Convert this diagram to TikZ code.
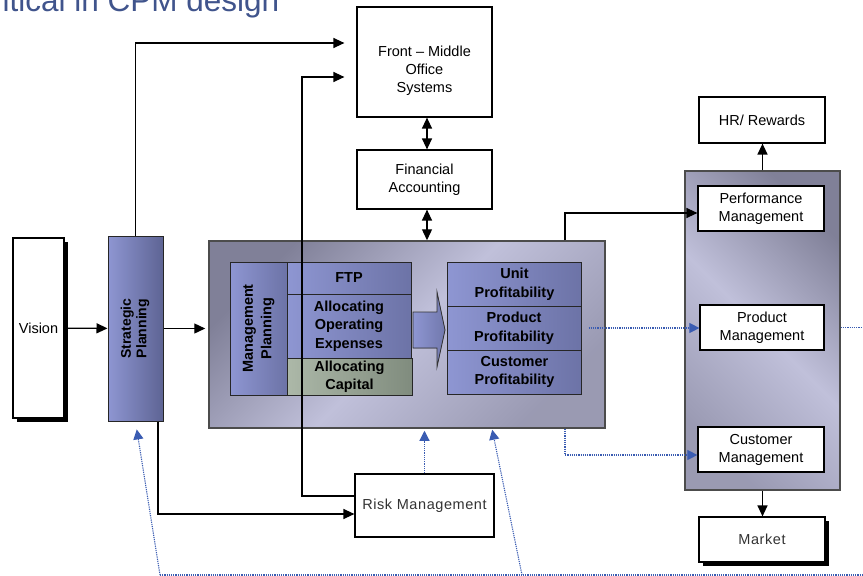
\documentclass[tikz,border=0pt]{standalone}
\usepackage{fontspec}
\setmainfont{Liberation Sans}
\newfontfamily\spacedfont[LetterSpace=4]{Liberation Sans}
\usepackage{xcolor}
\definecolor{titleblue}{RGB}{64,84,140}
\definecolor{flowblue}{RGB}{58,92,178}
\definecolor{panellight}{RGB}{192,192,218}
\definecolor{paneldark}{RGB}{128,128,152}
\definecolor{tilelight}{RGB}{142,150,210}
\definecolor{tiledark}{RGB}{94,100,148}
\definecolor{greenlight}{RGB}{172,184,168}
\definecolor{greendark}{RGB}{128,140,126}
\usepackage{tikz}
\usetikzlibrary{arrows.meta}
\usetikzlibrary{calc}
\usetikzlibrary{shadows}
\newcommand{\plainfont}{\fontsize{14.5}{18}\selectfont}
\newcommand{\tilefont}{\fontsize{14.5}{18.5}\selectfont\bfseries}
\newcommand{\sideways}[1]{\rotatebox{90}{\begin{tabular}{@{}c@{}}#1\end{tabular}}}
\newcommand{\lowered}[2]{\raisebox{#1}[0pt][0pt]{\begin{tabular}{@{}c@{}}#2\end{tabular}}}
\tikzset{
    >={Triangle[length=11pt,width=10pt]},
    common/.style={draw, rectangle, inner sep=0pt, align=center},
    whitebox/.style={common, fill=white, line width=1.2pt, font=\plainfont},
    shadowbox/.style={whitebox, drop shadow={shadow xshift=4pt, shadow yshift=-4pt, fill=black, opacity=1}},
    panel/.style={common, draw=black!70, line width=1.5pt, top color=paneldark, bottom color=paneldark!60!panellight, middle color=panellight, shading angle=#1},
    tile/.style={common, draw=black!85, line width=1pt, left color=tilelight, right color=tiledark!70!tilelight, font=\tilefont},
    greentile/.style={tile, left color=greenlight, right color=greendark},
    link/.style={line width=1.3pt},
    feedback/.style={-{Triangle[length=10pt,width=10pt]}, flowblue, dash pattern=on 1.2pt off 1pt, line width=1.1pt},
    feedbackline/.style={flowblue, dash pattern=on 1.2pt off 1pt, line width=1.1pt}
}

\begin{document}
\begin{tikzpicture}[x=1pt, y=-1pt]
    \useasboundingbox (0,0) rectangle (863,576);

    \node[anchor=base west, text=titleblue, font=\fontsize{31.5}{32}\selectfont] (title) at (-1,11) {itical in CPM design};

    % left column
    \node[shadowbox, minimum width=51, minimum height=180] (vision) at (38.5,328) {Vision};
    \node[tile, left color=tilelight, right color=tiledark, minimum width=55, minimum height=185, font=\fontsize{14}{15.5}\selectfont\bfseries] (strat) at (135.5,328.5) {\sideways{Strategic\\Planning}};

    % centre panel
    \node[panel=45, minimum width=396, minimum height=187] (core) at (407,334.5) {};
    \node[tile, minimum width=57, minimum height=133] (mgmt) at (258.5,328.5) {\sideways{Management\\Planning}};
    \node[tile, minimum width=124, minimum height=32] (ftp) at (349,278) {FTP};
    \node[tile, minimum width=124, minimum height=64] (opex) at (349,326) {Allocating\\Operating\\Expenses};
    \node[greentile, minimum width=125, minimum height=37] (capital) at (349.5,376.5) {Allocating\\Capital};
    \node[tile, minimum width=134, minimum height=44] (unitprof) at (514.5,284) {Unit\\Profitability};
    \node[tile, minimum width=134, minimum height=44] (prodprof) at (514,328) {Product\\Profitability};
    \node[tile, minimum width=134, minimum height=44] (custprof) at (514.5,372) {Customer\\Profitability};
    \filldraw[left color=tilelight, right color=tiledark!60!tilelight, draw=black!80, line width=0.8pt]
        (413,312) -- (437,312) -- (437,292) -- (445,330) -- (437,367) -- (437,348) -- (413,348) -- cycle;

    % top and bottom boxes
    \node[whitebox, minimum width=135, minimum height=110] (fmos) at (424.5,62) {\lowered{-12pt}{Front -- Middle\\Office\\Systems}};
    \node[whitebox, minimum width=135, minimum height=59] (finacc) at (424.5,179.5) {Financial\\Accounting};
    \node[whitebox, minimum width=139, minimum height=63, font=\plainfont\spacedfont, text=black!80] (risk) at (424.5,505.5) {Risk Management};

    % right column
    \node[panel=-45, minimum width=155, minimum height=319] (perfpanel) at (762.5,330.5) {};
    \node[whitebox, minimum width=126, minimum height=46] (hr) at (762,120) {HR/ Rewards};
    \node[whitebox, minimum width=126, minimum height=45] (perf) at (761,208.5) {Performance\\Management};
    \node[whitebox, minimum width=124, minimum height=45] (prodmgmt) at (762,327.5) {Product\\Management};
    \node[whitebox, minimum width=126, minimum height=45] (custmgmt) at (761,449.5) {Customer\\Management};
    \node[shadowbox, minimum width=126, minimum height=45, font=\plainfont\spacedfont, text=black!80] (market) at (762,539.5) {Market};

    \coordinate (riskup) at (302,77);
    \coordinate (loopL) at (160,575);
    \coordinate (loopR) at (522,575);
    \coordinate (loopend) at (863,575);
    \coordinate (prodout) at (863,327.5);

    \draw[->, link] (vision) -- (strat);
    \draw[->, link, shorten >=3pt] (strat.east) -- (strat.east -| core.west);
    \draw[->, link, shorten >=12pt] (strat.north) |- ([yshift=19pt]fmos.west);
    \draw[->, link, shorten >=12pt] ([yshift=9.5pt]risk.west) -| (riskup) -- (riskup -| fmos.west);
    \draw[->, link] ([xshift=22.5pt]strat.south) |- ([yshift=-8.5pt]risk.west);
    \draw[<->, link] ([xshift=2.5pt]fmos.south) -- ([xshift=2.5pt]finacc.north);
    \draw[<->, link] ([xshift=2.5pt]finacc.south) -- ([xshift=2.5pt]finacc.south |- core.north);
    \draw[->, link] ([xshift=158pt]core.north) |- ([yshift=-4.5pt]perf.west);
    \draw[->, link] (perfpanel.north) -- (perfpanel.north |- hr.south);
    \draw[->, link] (perfpanel.south) -- (perfpanel.south |- market.north);

    \draw[feedback, shorten <=7pt] (prodprof.east) -- (prodprof.east -| prodmgmt.west);
    \draw[feedbackline] (perfpanel.east |- prodmgmt.east) -- (prodout);
    \draw[feedback] ([xshift=158pt]core.south) |- ([yshift=-5.5pt]custmgmt.west);
    \draw[feedback, shorten >=2pt] (risk.north) -- (risk.north |- core.south);
    \draw[feedbackline] (loopL) -- (loopend);
    \draw[feedback, shorten >=8pt] (loopL) -- (strat.south);
    \draw[feedback, shorten >=1pt] (loopR) -- ([xshift=85pt]core.south);
\end{tikzpicture}
\end{document}
